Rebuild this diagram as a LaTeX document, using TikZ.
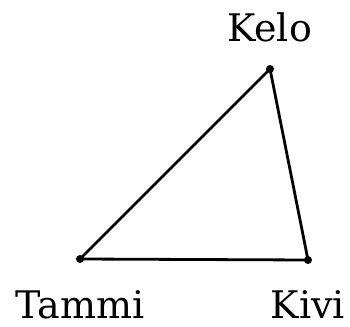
\documentclass[tikz,border=0pt]{standalone}
\usepackage{fontspec}
\setmainfont{DejaVu Serif}
\begin{document}
\begin{tikzpicture}[x=1pt,y=-1pt,
  vert/.style={circle,fill=black,inner sep=0pt,minimum size=8pt},
  lab/.style={anchor=base,inner sep=0pt,font=\fontsize{38}{44}\selectfont},
  edge/.style={line width=2.8pt,line join=round}]
\useasboundingbox (0,0) rectangle (350,326);
\node[vert] (kelo) at (270,69) {};
\node[vert] (tammi) at (80,259) {};
\node[vert] (kivi) at (308,260) {};
\draw[edge] (kelo.center) -- (tammi.center) -- (kivi.center) -- cycle;
\node[lab] (lkelo) at (269.5,42) {Kelo};
\node[lab] (ltammi) at (80,318) {Tammi};
\node[lab] (lkivi) at (308,318) {Kivi};
\end{tikzpicture}
\end{document}
